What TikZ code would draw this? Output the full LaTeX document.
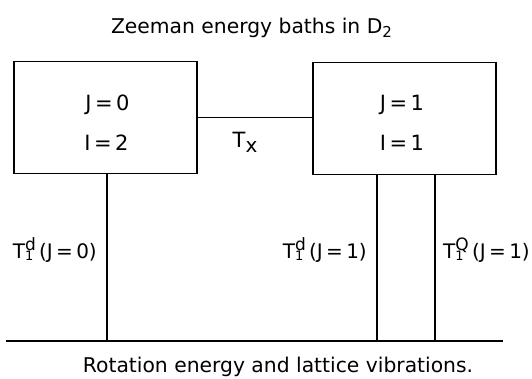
\documentclass[tikz,border=0pt]{standalone}
\usepackage{fontspec}
\setmainfont{DejaVu Sans}
\newcommand\Tlab[2]{T\rlap{\raisebox{-2pt}{\fontsize{13}{13}\selectfont 1}}\raisebox{8pt}{\fontsize{17}{17}\selectfont #1}\,#2}
\begin{document}
\begin{tikzpicture}[x=1pt,y=-1pt,
  lw/.style={line width=1.9pt},
  bath/.style={draw,lw,minimum width=183pt,minimum height=112pt,inner sep=0pt},
  txt/.style={inner sep=0pt,font=\fontsize{21}{25}\selectfont},
  lab/.style={inner sep=0pt,font=\fontsize{20}{24}\selectfont}]
\useasboundingbox (0,0) rectangle (532,378);
% title
\node[txt,anchor=base,font=\fontsize{20.3}{24}\selectfont] (title) at (251.5,33) {Zeeman energy baths in D\raisebox{-4pt}{\fontsize{15}{15}\selectfont 2}};
% baths
\node[bath] (L) at (105.5,117.5) {};
\node[bath] (R) at (404.5,118.5) {};
\node[txt,anchor=base] (J0) at (107.5,110) {J\,=\,0};
\node[txt,anchor=base] (I2) at (106.5,150) {I\,=\,2};
\node[txt,anchor=base] (J1) at (402,110) {J\,=\,1};
\node[txt,anchor=base] (I1) at (402,150) {I\,=\,1};
% exchange
\draw[lw] (L.east) -- (L.east -| R.west);
\node[txt,anchor=base] (Tx) at (245,147) {T\raisebox{-5pt}{\fontsize{20}{20}\selectfont x}};
% lattice bath
\coordinate (gl) at (6,341);
\coordinate (gr) at (503,341);
\coordinate (g1) at (107,341);
\coordinate (g2) at (377,341);
\coordinate (g3) at (435,341);
\draw[lw] (gl) -- (gr);
\draw[lw] (g1 |- L.south) -- (g1);
\draw[lw] (g2 |- R.south) -- (g2);
\draw[lw] (g3 |- R.south) -- (g3);
\node[lab,anchor=base east] (t1) at (97,258) {\Tlab{d}{(J\,=\,0)}};
\node[lab,anchor=base east] (t2) at (367,258) {\Tlab{d}{(J\,=\,1)}};
\node[lab,anchor=base west] (t3) at (443,258) {\Tlab{Q}{(J\,=\,1)}};
\node[txt,anchor=base,font=\fontsize{20.3}{24}\selectfont] (bottom) at (278,372) {Rotation energy and lattice vibrations.};
\end{tikzpicture}
\end{document}
